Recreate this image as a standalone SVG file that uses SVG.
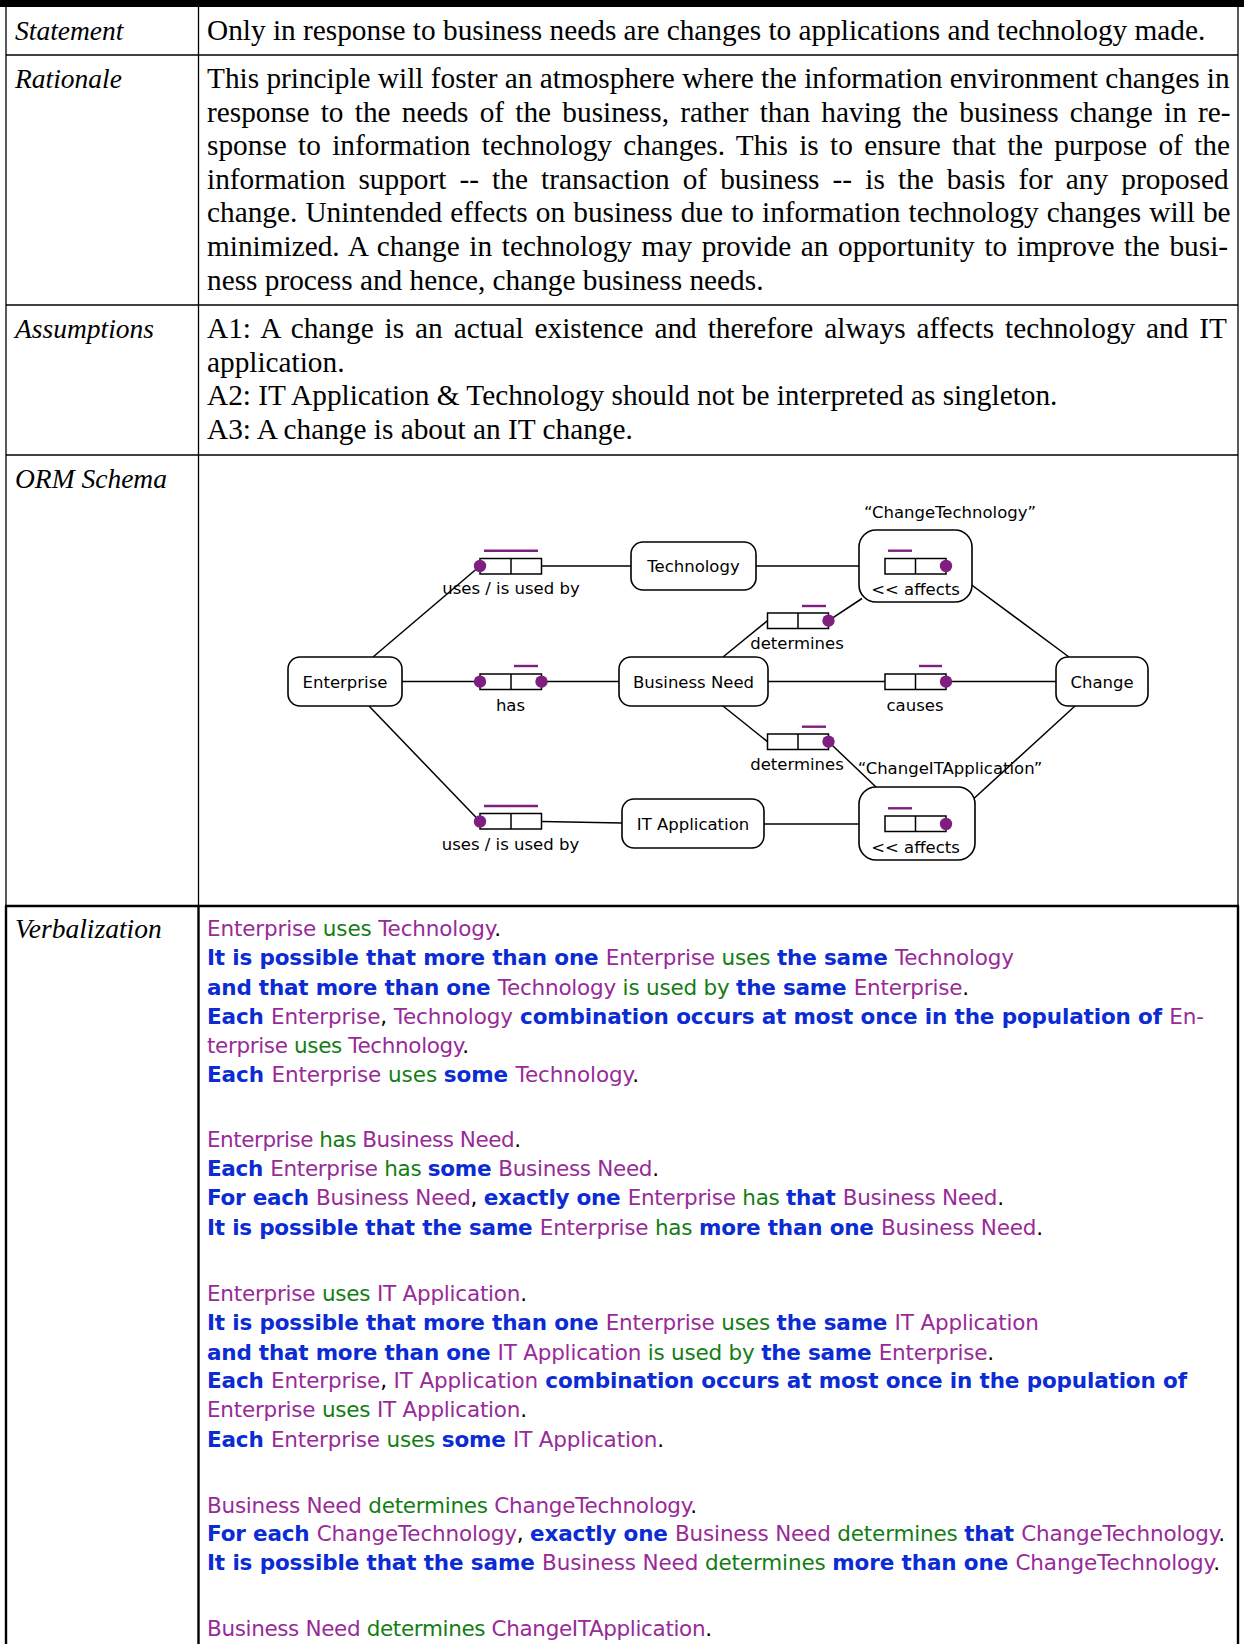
<svg xmlns="http://www.w3.org/2000/svg" width="1244" height="1644" viewBox="0 0 1244 1644">
  <style>
    .grid { stroke: #000; stroke-width: 1.3; fill: none; }
    .grid2 { stroke: #000; stroke-width: 2.4; fill: none; }
    .lbl { font-family: "Liberation Serif", "Times New Roman", serif; font-size: 27.5px; font-style: italic; fill: #000; }
    .body { font-family: "Liberation Serif", "Times New Roman", serif; font-size: 29.3px; fill: #000; }
    .orm { font-family: "DejaVu Sans", Tahoma, sans-serif; font-size: 16.5px; fill: #000; text-anchor: middle; }
    .verb { font-family: "DejaVu Sans", Tahoma, sans-serif; font-size: 21.5px; fill: #000; }
    .o { fill: #982A98; }
    .p { fill: #137D13; }
    .k { fill: #0B2BD4; font-weight: bold; }
    .et { fill: #fff; stroke: #000; stroke-width: 1.6; }
    .role { fill: #fff; stroke: #000; stroke-width: 1.5; }
    .conn { stroke: #000; stroke-width: 1.5; fill: none; }
    .uc { stroke: #7E1F80; stroke-width: 2.4; }
    .md { fill: #7E1F80; }
  </style>

  <!-- table frame -->
  <g id="table">
    <rect x="0" y="0" width="1244" height="7" fill="#000"/>
    <line class="grid" x1="6" y1="7" x2="6" y2="905"/>
    <line class="grid" x1="198.5" y1="7" x2="198.5" y2="905"/>
    <line class="grid" x1="1238" y1="7" x2="1238" y2="905"/>
    <line class="grid" x1="6" y1="55" x2="1238" y2="55"/>
    <line class="grid" x1="6" y1="305" x2="1238" y2="305"/>
    <line class="grid" x1="6" y1="455" x2="1238" y2="455"/>
    <line class="grid2" x1="5" y1="906" x2="1239" y2="906"/>
    <line class="grid2" x1="6" y1="906" x2="6" y2="1644"/>
    <line class="grid2" x1="198.5" y1="906" x2="198.5" y2="1644"/>
    <line class="grid2" x1="1238" y1="906" x2="1238" y2="1644"/>
  </g>

  <!-- row labels -->
  <g id="labels">
    <text class="lbl" x="15" y="40">Statement</text>
    <text class="lbl" x="15" y="88">Rationale</text>
    <text class="lbl" x="15" y="338">Assumptions</text>
    <text class="lbl" x="15" y="488">ORM Schema</text>
    <text class="lbl" x="15" y="938">Verbalization</text>
  </g>

  <!-- statement, rationale, assumptions -->
  <g id="prose">
    <text class="body" x="207" y="40">Only in response to business needs are changes to applications and technology made.</text>
    <text class="body" x="207" y="88">This principle will foster an atmosphere where the information environment changes in</text>
    <text class="body" x="207" y="122" word-spacing="3.9">response to the needs of the business, rather than having the business change in re-</text>
    <text class="body" x="207" y="155" word-spacing="4.0">sponse to information technology changes. This is to ensure that the purpose of the</text>
    <text class="body" x="207" y="189" word-spacing="5.8">information support -- the transaction of business -- is the basis for any proposed</text>
    <text class="body" x="207" y="222" word-spacing="0.8">change. Unintended effects on business due to information technology changes will be</text>
    <text class="body" x="207" y="256" word-spacing="2.3">minimized. A change in technology may provide an opportunity to improve the busi-</text>
    <text class="body" x="207" y="290">ness process and hence, change business needs.</text>
    <text class="body" x="207" y="338" word-spacing="3.6">A1: A change is an actual existence and therefore always affects technology and IT</text>
    <text class="body" x="207" y="372">application.</text>
    <text class="body" x="207" y="405">A2: IT Application &amp; Technology should not be interpreted as singleton.</text>
    <text class="body" x="207" y="439">A3: A change is about an IT change.</text>
  </g>

  <!-- ORM schema: connectors -->
  <g id="connectors">
    <line class="conn" x1="373" y1="657" x2="480" y2="566"/>
    <line class="conn" x1="402" y1="681.5" x2="480" y2="681.5"/>
    <line class="conn" x1="369" y1="706" x2="480" y2="821.5"/>
    <line class="conn" x1="541.5" y1="566" x2="631" y2="566"/>
    <line class="conn" x1="541.5" y1="681.5" x2="619" y2="681.5"/>
    <line class="conn" x1="541.5" y1="821.5" x2="622" y2="823"/>
    <line class="conn" x1="756" y1="566" x2="885" y2="566"/>
    <line class="conn" x1="723" y1="657" x2="767.5" y2="620.7"/>
    <line class="conn" x1="828.5" y1="620.7" x2="862" y2="598.5"/>
    <line class="conn" x1="768" y1="681.5" x2="885" y2="681.5"/>
    <line class="conn" x1="946" y1="681.5" x2="1056" y2="681.5"/>
    <line class="conn" x1="946" y1="566" x2="1069" y2="657"/>
    <line class="conn" x1="723" y1="706" x2="767.5" y2="741.7"/>
    <line class="conn" x1="828.5" y1="741.7" x2="876" y2="787"/>
    <line class="conn" x1="764" y1="824" x2="885" y2="824"/>
    <line class="conn" x1="946" y1="824" x2="1075" y2="706"/>
  </g>

  <!-- entity types -->
  <g id="enterprise">
    <rect class="et" x="288" y="657" width="114" height="49" rx="12"/>
    <text class="orm" x="345" y="687.5">Enterprise</text>
  </g>
  <g id="technology">
    <rect class="et" x="631" y="542" width="125" height="48" rx="12"/>
    <text class="orm" x="693.5" y="572">Technology</text>
  </g>
  <g id="business-need">
    <rect class="et" x="619" y="657" width="149" height="49" rx="12"/>
    <text class="orm" x="693.5" y="687.5">Business Need</text>
  </g>
  <g id="it-application">
    <rect class="et" x="622" y="799" width="142" height="49" rx="12"/>
    <text class="orm" x="693" y="829.5">IT Application</text>
  </g>
  <g id="change">
    <rect class="et" x="1056" y="657" width="92" height="49" rx="12"/>
    <text class="orm" x="1102" y="687.5">Change</text>
  </g>

  <!-- objectified fact types -->
  <g id="change-technology">
    <rect class="et" x="859" y="530" width="113" height="72" rx="17" fill="none"/>
    <text class="orm" x="950" y="518">“ChangeTechnology”</text>
    <rect class="role" x="885" y="558.5" width="61" height="15.5"/>
    <line class="conn" x1="915.5" y1="558.5" x2="915.5" y2="574"/>
    <line class="uc" x1="888" y1="550.7" x2="912" y2="550.7"/>
    <circle class="md" cx="946" cy="566" r="6.2"/>
    <text class="orm" x="915.5" y="594.5">&lt;&lt; affects</text>
  </g>
  <g id="change-it-application">
    <rect class="et" x="859" y="787" width="116" height="73" rx="17"/>
    <text class="orm" x="950" y="774">“ChangeITApplication”</text>
    <rect class="role" x="885" y="816" width="61" height="15.5"/>
    <line class="conn" x1="915.5" y1="816" x2="915.5" y2="831.5"/>
    <line class="uc" x1="888" y1="808.3" x2="912" y2="808.3"/>
    <circle class="md" cx="946" cy="824" r="6.2"/>
    <text class="orm" x="915.5" y="852.5">&lt;&lt; affects</text>
  </g>

  <!-- fact types -->
  <g id="uses-technology">
    <rect class="role" x="480" y="558.5" width="61.5" height="15.5"/>
    <line class="conn" x1="511" y1="558.5" x2="511" y2="574"/>
    <line class="uc" x1="484" y1="550.7" x2="538" y2="550.7"/>
    <circle class="md" cx="480" cy="566" r="6.2"/>
    <text class="orm" x="511" y="593.5">uses / is used by</text>
  </g>
  <g id="has">
    <rect class="role" x="480" y="674" width="61.5" height="15.5"/>
    <line class="conn" x1="511" y1="674" x2="511" y2="689.5"/>
    <line class="uc" x1="514" y1="666" x2="538" y2="666"/>
    <circle class="md" cx="480" cy="681.7" r="6.2"/>
    <circle class="md" cx="541.5" cy="681.7" r="6.2"/>
    <text class="orm" x="510.5" y="710.5">has</text>
  </g>
  <g id="uses-it-application">
    <rect class="role" x="480" y="813.5" width="61.5" height="15.5"/>
    <line class="conn" x1="511" y1="813.5" x2="511" y2="829"/>
    <line class="uc" x1="484" y1="806" x2="538" y2="806"/>
    <circle class="md" cx="480" cy="821.5" r="6.2"/>
    <text class="orm" x="510.5" y="849.5">uses / is used by</text>
  </g>
  <g id="determines-technology">
    <rect class="role" x="767.5" y="613" width="61" height="15.5"/>
    <line class="conn" x1="798" y1="613" x2="798" y2="628.5"/>
    <line class="uc" x1="802" y1="606" x2="826" y2="606"/>
    <circle class="md" cx="828.5" cy="620.7" r="6.2"/>
    <text class="orm" x="797" y="648.5">determines</text>
  </g>
  <g id="causes">
    <rect class="role" x="885" y="674" width="61" height="15.5"/>
    <line class="conn" x1="915.5" y1="674" x2="915.5" y2="689.5"/>
    <line class="uc" x1="919" y1="666" x2="942" y2="666"/>
    <circle class="md" cx="946" cy="681.7" r="6.2"/>
    <text class="orm" x="915" y="710.5">causes</text>
  </g>
  <g id="determines-it-application">
    <rect class="role" x="767.5" y="734" width="61" height="15.5"/>
    <line class="conn" x1="798" y1="734" x2="798" y2="749.5"/>
    <line class="uc" x1="802" y1="726.7" x2="826" y2="726.7"/>
    <circle class="md" cx="828.5" cy="741.7" r="6.2"/>
    <text class="orm" x="797" y="769.5">determines</text>
  </g>

  <!-- verbalization -->
  <g id="verbalization" class="verb">
    <text x="207" y="936" textLength="294"><tspan class="o">Enterprise</tspan><tspan class="p"> uses </tspan><tspan class="o">Technology</tspan>.</text>
    <text x="207" y="965" textLength="807"><tspan class="k">It is possible that more than one </tspan><tspan class="o">Enterprise</tspan><tspan class="p"> uses </tspan><tspan class="k">the same </tspan><tspan class="o">Technology</tspan></text>
    <text x="207" y="995" textLength="762"><tspan class="k">and that more than one </tspan><tspan class="o">Technology</tspan><tspan class="p"> is used by </tspan><tspan class="k">the same </tspan><tspan class="o">Enterprise</tspan>.</text>
    <text x="207" y="1024" textLength="997"><tspan class="k">Each </tspan><tspan class="o">Enterprise</tspan>, <tspan class="o">Technology</tspan><tspan class="k"> combination occurs at most once in the population of </tspan><tspan class="o">En-</tspan></text>
    <text x="207" y="1053" textLength="262"><tspan class="o">terprise</tspan><tspan class="p"> uses </tspan><tspan class="o">Technology</tspan>.</text>
    <text x="207" y="1082" textLength="432"><tspan class="k">Each </tspan><tspan class="o">Enterprise</tspan><tspan class="p"> uses </tspan><tspan class="k">some </tspan><tspan class="o">Technology</tspan>.</text>

    <text x="207" y="1147" textLength="314"><tspan class="o">Enterprise</tspan><tspan class="p"> has </tspan><tspan class="o">Business Need</tspan>.</text>
    <text x="207" y="1176" textLength="452"><tspan class="k">Each </tspan><tspan class="o">Enterprise</tspan><tspan class="p"> has </tspan><tspan class="k">some </tspan><tspan class="o">Business Need</tspan>.</text>
    <text x="207" y="1205" textLength="797"><tspan class="k">For each </tspan><tspan class="o">Business Need</tspan>, <tspan class="k">exactly one </tspan><tspan class="o">Enterprise</tspan><tspan class="p"> has </tspan><tspan class="k">that </tspan><tspan class="o">Business Need</tspan>.</text>
    <text x="207" y="1235" textLength="836"><tspan class="k">It is possible that the same </tspan><tspan class="o">Enterprise</tspan><tspan class="p"> has </tspan><tspan class="k">more than one </tspan><tspan class="o">Business Need</tspan>.</text>

    <text x="207" y="1301" textLength="320"><tspan class="o">Enterprise</tspan><tspan class="p"> uses </tspan><tspan class="o">IT Application</tspan>.</text>
    <text x="207" y="1330" textLength="832"><tspan class="k">It is possible that more than one </tspan><tspan class="o">Enterprise</tspan><tspan class="p"> uses </tspan><tspan class="k">the same </tspan><tspan class="o">IT Application</tspan></text>
    <text x="207" y="1360" textLength="787"><tspan class="k">and that more than one </tspan><tspan class="o">IT Application</tspan><tspan class="p"> is used by </tspan><tspan class="k">the same </tspan><tspan class="o">Enterprise</tspan>.</text>
    <text x="207" y="1388" textLength="980"><tspan class="k">Each </tspan><tspan class="o">Enterprise</tspan>, <tspan class="o">IT Application</tspan><tspan class="k"> combination occurs at most once in the population of</tspan></text>
    <text x="207" y="1417" textLength="320"><tspan class="o">Enterprise</tspan><tspan class="p"> uses </tspan><tspan class="o">IT Application</tspan>.</text>
    <text x="207" y="1447" textLength="457"><tspan class="k">Each </tspan><tspan class="o">Enterprise</tspan><tspan class="p"> uses </tspan><tspan class="k">some </tspan><tspan class="o">IT Application</tspan>.</text>

    <text x="207" y="1513" textLength="490"><tspan class="o">Business Need</tspan><tspan class="p"> determines </tspan><tspan class="o">ChangeTechnology</tspan>.</text>
    <text x="207" y="1541" textLength="1018"><tspan class="k">For each </tspan><tspan class="o">ChangeTechnology</tspan>, <tspan class="k">exactly one </tspan><tspan class="o">Business Need</tspan><tspan class="p"> determines </tspan><tspan class="k">that </tspan><tspan class="o">ChangeTechnology</tspan>.</text>
    <text x="207" y="1570" textLength="1013"><tspan class="k">It is possible that the same </tspan><tspan class="o">Business Need</tspan><tspan class="p"> determines </tspan><tspan class="k">more than one </tspan><tspan class="o">ChangeTechnology</tspan>.</text>

    <text x="207" y="1636" textLength="505"><tspan class="o">Business Need</tspan><tspan class="p"> determines </tspan><tspan class="o">ChangeITApplication</tspan>.</text>
  </g>
</svg>
